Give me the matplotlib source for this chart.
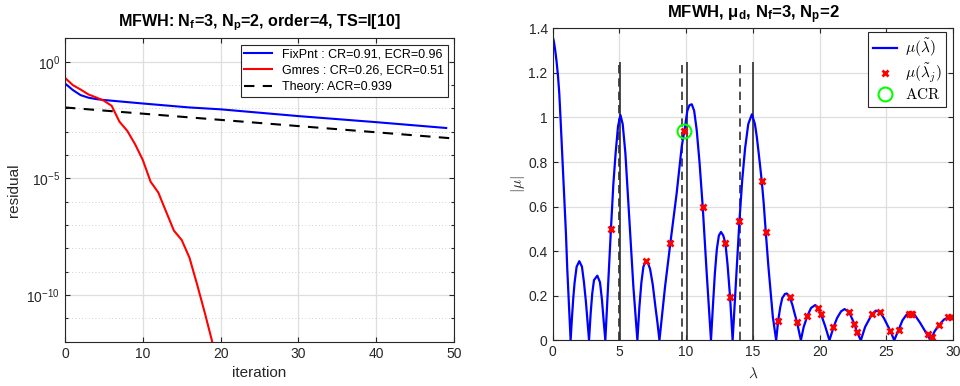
import numpy as np
import matplotlib
matplotlib.use("Agg")
import matplotlib.pyplot as plt
from matplotlib.ticker import FixedLocator, LogFormatterMathtext, NullFormatter
from matplotlib.font_manager import FontProperties

plt.rcParams["font.family"] = "Liberation Sans"
plt.rcParams["mathtext.fontset"] = "custom"
plt.rcParams["mathtext.rm"] = "Liberation Sans"
plt.rcParams["mathtext.it"] = "Liberation Sans:italic"
plt.rcParams["mathtext.bf"] = "Liberation Sans:bold"

AX_COLOR = "#262626"
GRID_COLOR = "#dedede"

# ---- left panel: residual history (log10 of residual) ----
fp_iter = [0, 1, 2, 3, 4, 5, 10, 16, 20, 30, 40, 49]
fp_logres = [-0.93, -1.21, -1.43, -1.54, -1.60, -1.64, -1.79, -1.96, -2.04, -2.33, -2.59, -2.84]

gm_iter = list(range(20))
gm_logres = [-0.69, -1.00, -1.19, -1.40, -1.53, -1.67, -1.89, -2.57, -2.96, -3.53,
             -4.21, -5.14, -5.61, -6.43, -7.24, -7.64, -8.40, -9.57, -10.8, -12.1]

theory_iter = [0, 50]
theory_logres = [-1.96, -3.29]

labels_left = ["FixPnt : CR=0.91, ECR=0.96",
               "Gmres : CR=0.26, ECR=0.51",
               "Theory: ACR=0.939"]

# ---- right panel: |mu| over lambda ----
mu_lam = [0.0, 0.1, 0.2, 0.3, 0.4, 0.5, 0.6, 0.7, 0.8, 0.9, 1.0, 1.1, 1.2, 1.35,
          1.45, 1.55, 1.65, 1.8, 2.0, 2.2, 2.35, 2.5, 2.62, 2.73,
          2.85, 2.97, 3.1, 3.35, 3.55, 3.7, 3.82, 3.95,
          4.15, 4.37, 4.55, 4.72, 4.9, 5.08, 5.25, 5.45, 5.6, 5.75, 6.05, 6.35,
          6.5, 6.65, 6.8, 6.97, 7.15, 7.3, 7.5, 7.7, 7.85, 8.0,
          8.42, 8.82, 9.29, 9.67, 9.87, 10.09, 10.25, 10.42, 10.6, 10.79, 11.0, 11.24, 11.54, 11.86,
          12.0, 12.15, 12.3, 12.45, 12.61, 12.78, 12.94, 13.1, 13.29, 13.48,
          13.75, 13.99, 14.2, 14.41, 14.65, 14.92, 15.15, 15.29, 15.45, 15.66, 15.8, 15.96, 16.16, 16.49, 16.74,
          16.89, 17.05, 17.2, 17.4, 17.54, 17.74, 17.95, 18.1, 18.29, 18.59,
          18.8, 19.08, 19.35, 19.66, 19.86, 20.08, 20.4, 20.73,
          21.03, 21.3, 21.6, 21.86, 22.2, 22.6, 22.78, 23.08,
          23.4, 23.9, 24.2, 24.48, 24.8, 25.28, 25.58,
          25.9, 26.2, 26.5, 26.8, 27.1, 27.5, 27.9, 28.3,
          28.6, 28.95, 29.3, 29.65, 30.0]
mu_val = [1.365, 1.34, 1.30, 1.25, 1.19, 1.11, 0.99, 0.86, 0.72, 0.60, 0.48, 0.32, 0.19, 0.0,
          0.10, 0.19, 0.26, 0.33, 0.355, 0.33, 0.26, 0.17, 0.08, 0.0,
          0.12, 0.21, 0.27, 0.29, 0.26, 0.18, 0.09, 0.0,
          0.24, 0.50, 0.70, 0.84, 0.96, 1.011, 0.97, 0.84, 0.69, 0.54, 0.24, 0.0,
          0.15, 0.26, 0.33, 0.355, 0.345, 0.32, 0.25, 0.15, 0.08, 0.0,
          0.24, 0.437, 0.66, 0.87, 0.94, 1.03, 1.055, 1.059, 1.03, 0.944, 0.80, 0.60, 0.30, 0.0,
          0.15, 0.30, 0.41, 0.47, 0.486, 0.47, 0.435, 0.34, 0.193, 0.0,
          0.28, 0.537, 0.72, 0.86, 0.97, 1.014, 0.97, 0.913, 0.83, 0.715, 0.62, 0.487, 0.33, 0.105, 0.0,
          0.088, 0.15, 0.19, 0.208, 0.21, 0.195, 0.16, 0.125, 0.083, 0.0,
          0.06, 0.11, 0.145, 0.158, 0.147, 0.12, 0.065, 0.0,
          0.058, 0.10, 0.13, 0.14, 0.127, 0.073, 0.038, 0.0,
          0.06, 0.116, 0.133, 0.128, 0.10, 0.043, 0.0,
          0.046, 0.09, 0.115, 0.12, 0.115, 0.08, 0.04, 0.0,
          0.04, 0.07, 0.093, 0.104, 0.107]

cross_lam = [4.37, 6.97, 8.82, 9.87, 11.24, 12.94, 13.29, 13.99, 15.66, 15.96,
             16.89, 17.74, 18.29, 19.08, 19.86, 20.08, 21.03, 22.2, 22.6, 22.78,
             23.9, 24.48, 25.28, 25.9, 26.65, 26.8, 26.9, 28.1, 28.4, 28.95, 29.64, 29.8]
cross_val = [0.498, 0.355, 0.437, 0.94, 0.60, 0.435, 0.193, 0.537, 0.715, 0.487,
             0.088, 0.195, 0.083, 0.11, 0.147, 0.12, 0.058, 0.127, 0.073, 0.038,
             0.116, 0.128, 0.043, 0.046, 0.118, 0.12, 0.118, 0.028, 0.016, 0.07, 0.104, 0.104]

acr_lam = [9.87]
acr_val = [0.94]

solid_lam = [5.03, 10.03, 15.03]
dashed_lam = [4.97, 9.7, 14.0]
marker_top = 1.25


def style_axes(ax):
    ax.tick_params(which="both", direction="in", top=True, right=True,
                   colors=AX_COLOR, labelsize=10, width=0.8)
    for s in ax.spines.values():
        s.set_color(AX_COLOR)
        s.set_linewidth(0.8)
    ax.set_axisbelow(True)


fig = plt.figure(figsize=(9.6, 3.86), dpi=100)

# left panel
ax1 = fig.add_axes([0.0677, 0.1148, 0.4052, 0.7857])
ax1.semilogy(fp_iter, 10.0 ** np.array(fp_logres), color="#0000ff", lw=1.5, label=labels_left[0])
ax1.semilogy(gm_iter, 10.0 ** np.array(gm_logres), color="#ff0000", lw=1.5, label=labels_left[1])
ax1.semilogy(theory_iter, 10.0 ** np.array(theory_logres), color="black", lw=1.5,
             ls=(0, (5, 4)), label=labels_left[2])
ax1.set_xlim(0, 50)
ax1.set_ylim(1e-12, 1e1)
ax1.xaxis.set_major_locator(FixedLocator([0, 10, 20, 30, 40, 50]))
ax1.yaxis.set_major_locator(FixedLocator([1e-10, 1e-5, 1e0]))
ax1.yaxis.set_major_formatter(LogFormatterMathtext())
ax1.yaxis.set_minor_locator(FixedLocator(10.0 ** np.arange(-12, 2)))
ax1.yaxis.set_minor_formatter(NullFormatter())
ax1.grid(True, which="major", color=GRID_COLOR, lw=0.9)
ax1.grid(True, which="minor", axis="y", color="#c0c0c0", lw=0.6, ls=(0, (1, 3)))
style_axes(ax1)
ax1.set_xlabel("iteration", fontsize=11, color=AX_COLOR, labelpad=4)
ax1.set_ylabel("residual", fontsize=11, color=AX_COLOR, labelpad=4)
ax1.set_title(r"MFWH: N$_\mathbf{f}$=3, N$_\mathbf{p}$=2, order=4, TS=I[10]",
              fontsize=11.6, fontweight="bold", color="black", pad=9)
leg1 = ax1.legend(loc="upper right", fontsize=9, frameon=True, fancybox=False,
                  edgecolor=AX_COLOR, framealpha=1, handlelength=2.2,
                  labelspacing=0.35, borderpad=0.3, borderaxespad=0.5)
leg1.get_frame().set_linewidth(0.8)

# right panel
ax2 = fig.add_axes([0.5756, 0.1184, 0.4174, 0.8083])
ax2.vlines(solid_lam, 0, marker_top, color="#303030", lw=1.2)
ax2.vlines(dashed_lam, 0, marker_top, color="#303030", lw=1.2, linestyles=(0, (5, 3)))
ax2.plot(mu_lam, mu_val, color="#0000ff", lw=1.6, label=r"$\mu(\tilde{\lambda})$")
ax2.plot(cross_lam, cross_val, ls="none", marker="x", color="#ff0000", ms=4.5, mew=2,
         label=r"$\mu(\tilde{\lambda}_j)$")
ax2.plot(acr_lam, acr_val, ls="none", marker="o", mfc="none", mec="#00ff00", ms=10, mew=1.5,
         label=r"$\mathrm{ACR}$")
ax2.set_xlim(0, 30)
ax2.set_ylim(0, 1.4)
ax2.set_xticks([0, 5, 10, 15, 20, 25, 30])
ax2.set_yticks([0, 0.2, 0.4, 0.6, 0.8, 1.0, 1.2, 1.4])
ax2.set_yticklabels(["0", "0.2", "0.4", "0.6", "0.8", "1", "1.2", "1.4"])
ax2.grid(True, color=GRID_COLOR, lw=0.9)
style_axes(ax2)
ax2.set_xlabel(r"$\lambda$", fontsize=11, color=AX_COLOR, math_fontfamily="cm", labelpad=5)
ax2.set_ylabel(r"$|\mu|$", fontsize=11, color=AX_COLOR, math_fontfamily="cm", labelpad=1)
ax2.set_title(r"MFWH, $\mathbf{\mu_d}$, N$_\mathbf{f}$=3, N$_\mathbf{p}$=2",
              fontsize=12, fontweight="bold", color="black", pad=7.5)
leg2 = ax2.legend(loc="upper right", bbox_to_anchor=(0.9854, 0.917),
                  bbox_transform=fig.transFigure,
                  prop=FontProperties(size=11, math_fontfamily="cm"),
                  frameon=True, fancybox=False, edgecolor=AX_COLOR, framealpha=1,
                  handlelength=1.6, handletextpad=0.5, labelspacing=0.15,
                  borderpad=0.3, borderaxespad=0.0)
leg2.get_frame().set_linewidth(0.8)

fig.savefig("out.png", dpi=100)
